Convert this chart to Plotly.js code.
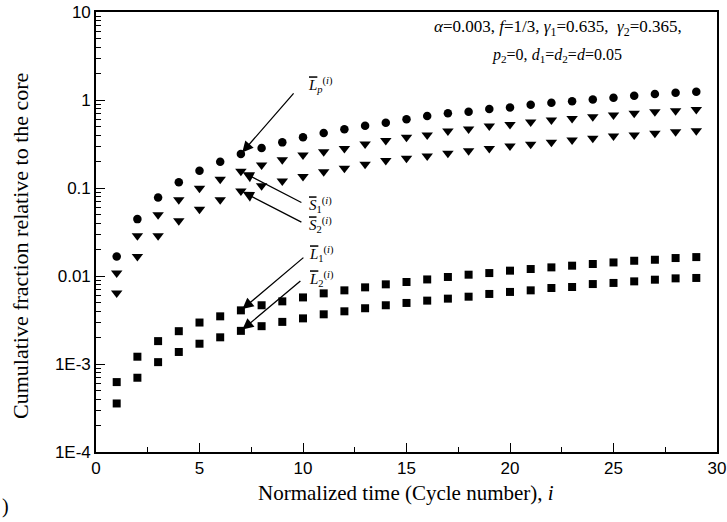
<!DOCTYPE html>
<html>
<head>
<meta charset="utf-8">
<script src="https://cdn.plot.ly/plotly-3.0.1.min.js"></script>
<style>html,body{margin:0;padding:0;background:#fff;}</style>
</head>
<body>
<div id="chart" style="width:727px;height:522px;"></div>
<script>
const cycles = [1,2,3,4,5,6,7,8,9,10,11,12,13,14,15,16,17,18,19,20,21,22,23,24,25,26,27,28,29];
const Lp = [0.0167,0.0443,0.0778,0.116,0.157,0.199,0.244,0.285,0.330,0.377,0.422,0.465,0.509,0.551,0.603,0.656,0.705,0.734,0.789,0.824,0.883,0.93,0.97,1.016,1.06,1.12,1.17,1.21,1.24];
const S1 = [0.0108,0.0286,0.0495,0.0733,0.0995,0.126,0.155,0.183,0.209,0.237,0.259,0.282,0.316,0.347,0.377,0.40,0.444,0.468,0.506,0.528,0.561,0.591,0.618,0.645,0.675,0.705,0.734,0.755,0.782];
const S2 = [0.0064,0.0167,0.0286,0.0424,0.0575,0.0733,0.0927,0.106,0.120,0.135,0.153,0.168,0.186,0.205,0.218,0.231,0.248,0.265,0.282,0.300,0.314,0.330,0.351,0.367,0.390,0.40,0.418,0.435,0.448];
const L1 = [0.000623,0.00121,0.00182,0.00236,0.00296,0.00348,0.00407,0.00465,0.00515,0.00571,0.00635,0.00687,0.00743,0.00804,0.00855,0.00914,0.00975,0.01035,0.0108,0.0115,0.0120,0.01253,0.0131,0.01368,0.01426,0.0149,0.0153,0.016,0.0164];
const L2 = [0.000356,0.000698,0.00105,0.00137,0.0017,0.00201,0.00238,0.00269,0.00301,0.0033,0.00367,0.00397,0.0043,0.00465,0.00494,0.00525,0.00553,0.00582,0.00625,0.00659,0.00687,0.00731,0.0075,0.0081,0.00834,0.00869,0.00908,0.0094,0.0095];
const yTickVals = [1e-4,1e-3,0.01,0.1,1,10];
const yTickText = ["1E-4","1E-3","0.01","0.1","1","10"];

const serif = "Liberation Serif, Times New Roman, serif";
const sans = "Liberation Sans, Arial, sans-serif";

function tr(y, sym, size){
  return {x:cycles, y:y, type:'scatter', mode:'markers', showlegend:false,
    marker:{symbol:sym, size:size, color:'#000', line:{width:0}}};
}
const traces = [
  tr(Lp,'circle',8.5), tr(S1,'triangle-down',10), tr(S2,'triangle-down',10),
  tr(L1,'square',8), tr(L2,'square',8)
];

const minorVals = [];
for (let e=-4; e<1; e++) for (let m=2; m<10; m++) minorVals.push(m*Math.pow(10,e));

const W = 727, H = 522, ml = 96, mr = 10, mt = 12, mb = 70;
const pw = W-ml-mr, ph = H-mt-mb;
const px = p => (p-ml)/pw;
const py = p => (H-mb-p)/ph;

const idx = 6; // cycle 7
function arrow(series, ax, ay){
  return {x:cycles[idx], y:Math.log10(series[idx]), xref:'x', yref:'y', text:'',
    showarrow:true, ax:ax, ay:ay, arrowhead:2, arrowsize:1.7, arrowwidth:1.3,
    arrowcolor:'#000', standoff:2};
}
function lab(text, xp, yp){
  return {x:px(xp), y:py(yp), xref:'paper', yref:'paper', text:text, showarrow:false,
    xanchor:'left', yanchor:'middle', font:{family:serif, size:15, color:'#000'}};
}
const ov = ch => '<span style="text-decoration:overline"><i>'+ch+'</i></span>';

const annotations = [
  arrow(Lp, 54, -62), arrow(S1, 62, 32), arrow(S2, 62, 32),
  arrow(L1, 64, -54), arrow(L2, 61, -51),
  lab(ov('L')+'<sub><i>p</i></sub><sup>(<i>i</i>)</sup>', 306, 85),
  lab(ov('S')+'<sub>1</sub><sup>(<i>i</i>)</sup>', 307, 205),
  lab(ov('S')+'<sub>2</sub><sup>(<i>i</i>)</sup>', 307, 225),
  lab(ov('L')+'<sub>1</sub><sup>(<i>i</i>)</sup>', 307, 254),
  lab(ov('L')+'<sub>2</sub><sup>(<i>i</i>)</sup>', 307, 279),
  {x:px(558), y:py(28), xref:'paper', yref:'paper', showarrow:false, xanchor:'center', yanchor:'middle',
   text:'<i>α</i>=0.003, <i>f</i>=1/3, <i>γ</i><sub>1</sub>=0.635,\u00a0\u00a0<i>γ</i><sub>2</sub>=0.365,',
   font:{family:serif, size:17, color:'#000'}},
  {x:px(557), y:py(55), xref:'paper', yref:'paper', showarrow:false, xanchor:'center', yanchor:'middle',
   text:'<i>p</i><sub>2</sub>=0, <i>d</i><sub>1</sub>=<i>d</i><sub>2</sub>=<i>d</i>=0.05',
   font:{family:serif, size:16, color:'#000'}},
  {x:px(406), y:py(493), xref:'paper', yref:'paper', showarrow:false, xanchor:'center', yanchor:'middle',
   text:'Normalized time (Cycle number), <i>i</i>', font:{family:serif, size:21, color:'#000'}},
  {x:px(21), y:py(246), xref:'paper', yref:'paper', showarrow:false, xanchor:'center', yanchor:'middle',
   textangle:-90, text:'Cumulative fraction relative to the core', font:{family:serif, size:22, color:'#000'}},
  {x:px(0), y:py(506), xref:'paper', yref:'paper', showarrow:false, xanchor:'left', yanchor:'middle',
   text:')', font:{family:serif, size:20, color:'#000'}}
];

const layout = {
  width:W, height:H, margin:{l:ml, r:mr, t:mt, b:mb, pad:0},
  paper_bgcolor:'#fff', plot_bgcolor:'#fff', showlegend:false,
  xaxis:{range:[0,30], dtick:5, tick0:0, ticks:'inside', ticklen:9, tickwidth:1, tickcolor:'#000',
    showline:true, linewidth:1.8, linecolor:'#000', mirror:true, showgrid:false, zeroline:false,
    minor:{ticks:'inside', ticklen:5, tickwidth:1, tickcolor:'#000', dtick:2.5, tick0:0, showgrid:false},
    tickfont:{family:sans, size:17, color:'#000'}},
  yaxis:{type:'log', range:[-4,1], tickmode:'array', tickvals:yTickVals, ticktext:yTickText,
    ticks:'inside', ticklen:9, tickwidth:1, tickcolor:'#000',
    showline:true, linewidth:1.8, linecolor:'#000', mirror:true, showgrid:false, zeroline:false,
    minor:{ticks:'inside', ticklen:5, tickwidth:1, tickcolor:'#000', tickmode:'array', tickvals:minorVals, showgrid:false},
    tickfont:{family:sans, size:17, color:'#000'}},
  annotations: annotations
};

Plotly.newPlot('chart', traces, layout, {displayModeBar:false, staticPlot:true});
</script>
</body>
</html>
